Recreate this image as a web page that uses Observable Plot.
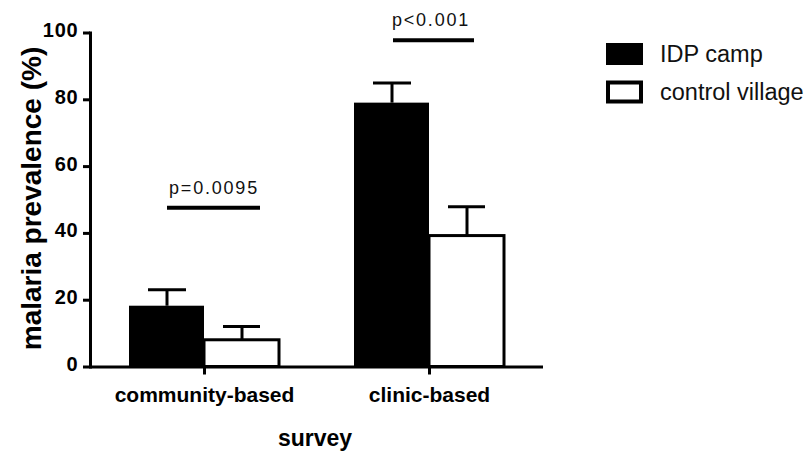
<!DOCTYPE html>
<html>
<head>
<meta charset="utf-8">
<script src="https://cdn.jsdelivr.net/npm/d3@7"></script>
<script src="https://cdn.jsdelivr.net/npm/@observablehq/plot@0.6"></script>
<style>
  html, body { margin: 0; padding: 0; background: #fff; }
  #chart { position: relative; width: 806px; height: 454px; }
</style>
</head>
<body>
<div id="chart"></div>
<script>
// ---- data ----
const surveys = ["community-based", "clinic-based"];
const groups = ["IDP camp", "control village"];
const idpValues = [18.2, 79.0];
const idpUpper = [23.1, 85.0];
const controlValues = [8.0, 39.2];
const controlUpper = [12.1, 48.0];
const yTicks = [0, 20, 40, 60, 80, 100];
const pLabels = ["p=0.0095", "p<0.001"];
const pLineY = [47.7, 97.8];
const groupFills = ["black", "white"];
const yLabel = "malaria prevalence (%)";
const xLabel = "survey";

const FONT = "'Liberation Sans', Arial, sans-serif";

const idp = surveys.map((s, i) => ({survey: s, value: idpValues[i], upper: idpUpper[i]}));
const ctrl = surveys.map((s, i) => ({survey: s, value: controlValues[i], upper: controlUpper[i]}));
const sig = surveys.map((s, i) => ({survey: s, y: pLineY[i], label: pLabels[i]}));

const chart = Plot.plot({
  width: 806,
  height: 454,
  marginLeft: 90,
  marginRight: 263,
  marginTop: 32.5,
  marginBottom: 87.5,
  style: {fontFamily: FONT, color: "black", background: "white", overflow: "visible"},
  x: {domain: surveys, paddingInner: 1/3, paddingOuter: 0.1733, label: null},
  y: {domain: [0, 100], label: null},
  marks: [
    Plot.barY(idp, {x: "survey", y: "value", fill: groupFills[0], insetRight: 75}),
    Plot.barY(ctrl, {x: "survey", y: "value", fill: groupFills[1], stroke: "black", strokeWidth: 3, insetLeft: 75}),
    Plot.ruleX(idp, {x: "survey", y1: "value", y2: "upper", dx: -37.5, strokeWidth: 3}),
    Plot.tickY(idp, {x: "survey", y: "upper", insetLeft: 19, insetRight: 93, strokeWidth: 3}),
    Plot.ruleX(ctrl, {x: "survey", y1: "value", y2: "upper", dx: 37.5, strokeWidth: 3}),
    Plot.tickY(ctrl, {x: "survey", y: "upper", insetLeft: 94, insetRight: 19, strokeWidth: 3}),
    Plot.tickY(sig.slice(0, 1), {x: "survey", y: "y", insetLeft: 38, insetRight: 19, strokeWidth: 4}),
    Plot.tickY(sig.slice(1, 2), {x: "survey", y: "y", insetLeft: 39, insetRight: 30, strokeWidth: 4}),
    Plot.text(sig.slice(0, 1), {x: "survey", y: "y", text: "label", dx: 9.5, dy: -14, lineAnchor: "bottom", fontSize: 18, fill: "#111"}),
    Plot.text(sig.slice(1, 2), {x: "survey", y: "y", text: "label", dx: 1.5, dy: -14, lineAnchor: "bottom", fontSize: 18, fill: "#111"}),
    Plot.ruleY([0], {strokeWidth: 3}),
    Plot.frame({anchor: "left", strokeWidth: 3}),
    Plot.axisY({ticks: yTicks, tickSize: 7, tickPadding: 5, fontSize: 20, fontWeight: "bold", strokeWidth: 3, label: null}),
    Plot.axisX({tickSize: 8, tickPadding: 12, fontSize: 21, fontWeight: "bold", strokeWidth: 3, label: null}),
    Plot.text([xLabel], {text: d => d, frameAnchor: "bottom", dx: -2, dy: 78.5, lineAnchor: "bottom", fontSize: 23, fontWeight: "bold"}),
    Plot.text([yLabel], {text: d => d, frameAnchor: "left", textAnchor: "middle", rotate: -90, dx: -50, dy: -1.5, lineAnchor: "bottom", fontSize: 28, fontWeight: "bold"})
  ]
});

const svg = d3.select(chart);
svg.selectAll("text").filter(function () { return pLabels.includes(this.textContent); })
  .attr("letter-spacing", 1.8);
svg.selectAll("text").filter(function () { return yTicks.map(String).includes(this.textContent); })
  .attr("font-size", 20).attr("font-weight", "bold").attr("letter-spacing", 0.8).attr("dy", -2.5);

// legend
const leg = svg.append("g").attr("font-family", FONT).attr("font-size", 23.5).attr("text-anchor", "start");
groups.forEach((g, i) => {
  const top = 43 + i * 37.5;
  if (groupFills[i] === "black") {
    leg.append("rect").attr("x", 606).attr("y", top).attr("width", 37).attr("height", 22).attr("fill", "black");
  } else {
    leg.append("rect").attr("x", 608).attr("y", top + 2).attr("width", 33).attr("height", 19)
      .attr("fill", "white").attr("stroke", "black").attr("stroke-width", 4);
  }
  leg.append("text").attr("x", 660).attr("y", top + 19).attr("fill", "#111").attr("text-anchor", "start").text(g);
});

document.getElementById("chart").appendChild(chart);
</script>
</body>
</html>
